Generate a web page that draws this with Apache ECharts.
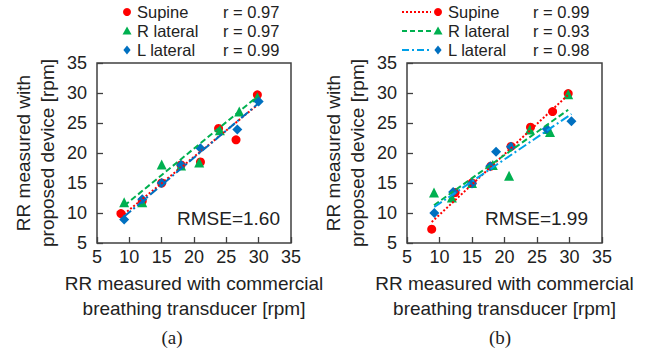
<!DOCTYPE html>
<html>
<head>
<meta charset="utf-8">
<script src="https://cdn.jsdelivr.net/npm/echarts@6/dist/echarts.min.js"></script>
<style>
  html, body { margin: 0; padding: 0; background: #fff; }
  #chart { width: 650px; height: 354px; }
</style>
</head>
<body>
<div id="chart"></div>
<script>
  // ── data ──
  var seriesNames = ['Supine', 'R lateral', 'L lateral'];
  var axisMin = 5, axisMax = 35, axisStep = 5;

  // (a)
  var supineA = [[8.7, 9.9], [12, 12], [15, 15], [18, 18], [21, 18.5], [23.8, 24.1], [26.5, 22.2], [29.8, 29.7]];
  var rLatA = [[9.2, 11.8], [12, 11.8], [15, 18.1], [18, 17.9], [20.8, 18.4], [24, 23.8], [27, 26.9], [29.8, 29.3]];
  var lLatA = [[9.2, 8.9], [12, 12.3], [15, 15], [18, 18], [21, 20.8], [26.7, 23.9], [30, 28.6]];
  var trendSupineA = [[8.7, 9.4], [29.8, 28.0]];
  var trendRLatA = [[9.2, 11.2], [29.8, 29.4]];
  var trendLLatA = [[9.2, 9.4], [30, 28.3]];
  var rValuesA = ['0.97', '0.97', '0.99'];

  // (b)
  var supineB = [[8.8, 7.3], [12.4, 13.4], [15, 15], [17.9, 17.8], [21, 21.1], [24, 24.3], [27.4, 26.9], [29.8, 29.9]];
  var rLatB = [[9.15, 13.4], [11.9, 12.6], [15, 15], [18.2, 18], [20.7, 16.2], [23.9, 23.9], [26.7, 24], [27, 23.5], [29.8, 29.8]];
  var lLatB = [[9.2, 10], [12.1, 13.5], [15, 14.9], [17.8, 17.8], [18.7, 20.2], [21, 21.05], [26.5, 24], [30.3, 25.3]];
  var trendSupineB = [[8.8, 8.5], [29.8, 29.7]];
  var trendRLatB = [[9.15, 11.3], [29.8, 27.2]];
  var trendLLatB = [[9.2, 11.0], [30.3, 26.5]];
  var rValuesB = ['0.99', '0.93', '0.98'];

  var rmseValues = ['1.60', '1.99'];
  var panelLabels = ['(a)', '(b)'];

  // ── styles ──
  var FONT = '"Liberation Sans", Arial, sans-serif';
  var colors = ['#ff0000', '#00b050', '#0070c0'];
  var lineColors = ['#ff0000', '#00b050', '#00a0e8'];
  var symbols = ['circle', 'triangle', 'diamond'];
  var symbolSizes = [9, 10, 10];
  var lineTypes = ['dotted', [6, 3], [9, 3, 2, 3]];

  var chart = echarts.init(document.getElementById('chart'), null, { renderer: 'svg' });

  var grids = [
    { left: 97, top: 63, width: 194, height: 180, show: true, borderColor: '#404040', borderWidth: 1.5, backgroundColor: 'transparent' },
    { left: 407, top: 63, width: 195, height: 180, show: true, borderColor: '#404040', borderWidth: 1.5, backgroundColor: 'transparent' }
  ];

  function xAxisFor(i) {
    return {
      gridIndex: i, type: 'value', min: axisMin, max: axisMax, interval: axisStep,
      axisLine: { show: false },
      axisTick: { show: true, inside: true, length: 6, lineStyle: { color: '#404040', width: 1.3 } },
      axisLabel: { fontSize: 18, color: '#222', fontFamily: FONT, margin: 5 },
      splitLine: { show: false },
      name: 'RR measured with commercial\nbreathing transducer [rpm]',
      nameLocation: 'middle', nameGap: 28,
      nameTextStyle: { fontSize: 19, color: '#222', fontFamily: FONT, lineHeight: 25 }
    };
  }
  function yAxisFor(i) {
    return {
      gridIndex: i, type: 'value', min: axisMin, max: axisMax, interval: axisStep,
      axisLine: { show: false },
      axisTick: { show: true, inside: true, length: 6, lineStyle: { color: '#404040', width: 1.3 } },
      axisLabel: { fontSize: 18, color: '#222', fontFamily: FONT, margin: 10 },
      splitLine: { show: false },
      name: 'RR measured with\nproposed device [rpm]',
      nameLocation: 'middle', nameGap: 38,
      nameTextStyle: { fontSize: 19, color: '#222', fontFamily: FONT, lineHeight: 24 }
    };
  }

  var points = [[supineA, rLatA, lLatA], [supineB, rLatB, lLatB]];
  var trends = [[trendSupineA, trendRLatA, trendLLatA], [trendSupineB, trendRLatB, trendLLatB]];

  var series = [];
  points.forEach(function (panel, g) {
    panel.forEach(function (data, k) {
      series.push({
        type: 'scatter', name: seriesNames[k], xAxisIndex: g, yAxisIndex: g,
        data: data, symbol: symbols[k], symbolSize: symbolSizes[k],
        itemStyle: { color: colors[k], opacity: 1 }, z: 2 + k, silent: true
      });
    });
  });
  trends.forEach(function (panel, g) {
    panel.forEach(function (data, k) {
      series.push({
        type: 'line', name: seriesNames[k] + ' trend', xAxisIndex: g, yAxisIndex: g,
        data: data, symbol: 'none',
        lineStyle: { color: g === 0 && k === 2 ? colors[2] : lineColors[k], width: 2, type: lineTypes[k] },
        z: 6, silent: true
      });
    });
  });

  // ── legends, r values, RMSE and panel labels ──
  var rowY = [12, 31, 50];
  var graphics = [];

  function marker(k, cx, cy) {
    var s = 4.5;
    if (k === 0) return { type: 'circle', shape: { cx: cx, cy: cy, r: 4 }, style: { fill: colors[0] } };
    if (k === 1) return { type: 'polygon', shape: { points: [[cx, cy - s], [cx + s, cy + s * 0.8], [cx - s, cy + s * 0.8]] }, style: { fill: colors[1] } };
    return { type: 'polygon', shape: { points: [[cx, cy - s], [cx + s * 0.8, cy], [cx, cy + s], [cx - s * 0.8, cy]] }, style: { fill: colors[2] } };
  }
  function txt(str, x, y, size, family, align, lh) {
    return {
      type: 'text', x: x, y: y,
      style: {
        text: str, fontSize: size, fontFamily: family || FONT, fill: '#222',
        verticalAlign: 'middle', align: align || 'left', lineHeight: lh || size + 2
      }
    };
  }

  var LEG = 16.5;
  seriesNames.forEach(function (name, k) {
    var y = rowY[k];
    // (a) legend: markers only
    graphics.push(marker(k, 127, y));
    graphics.push(txt(name, 137, y, LEG, FONT, 'left', 16));
    graphics.push(txt('r = ' + rValuesA[k], 223, y, LEG, FONT, 'left', 16));
    // (b) legend: line + marker
    graphics.push({
      type: 'line', shape: { x1: 402, y1: y, x2: 431, y2: y },
      style: { stroke: lineColors[k], lineWidth: 2, lineDash: k === 0 ? [2, 2] : (k === 1 ? [5, 3] : [7, 3, 2, 3]) }
    });
    graphics.push(marker(k, 438, y));
    graphics.push(txt(name, 448, y, LEG, FONT, 'left', 16));
    graphics.push(txt('r = ' + rValuesB[k], 533, y, LEG, FONT, 'left', 16));
  });

  graphics.push(txt('RMSE=' + rmseValues[0], 280, 218, 19, FONT, 'right'));
  graphics.push(txt('RMSE=' + rmseValues[1], 588, 218, 19, FONT, 'right'));
  graphics.push(txt(panelLabels[0], 172, 337, 19, '"Liberation Serif", "Times New Roman", serif', 'center'));
  graphics.push(txt(panelLabels[1], 500, 337, 19, '"Liberation Serif", "Times New Roman", serif', 'center'));

  chart.setOption({
    animation: false,
    backgroundColor: '#fff',
    grid: grids,
    xAxis: [xAxisFor(0), xAxisFor(1)],
    yAxis: [yAxisFor(0), yAxisFor(1)],
    series: series,
    graphic: graphics
  });
</script>
</body>
</html>
